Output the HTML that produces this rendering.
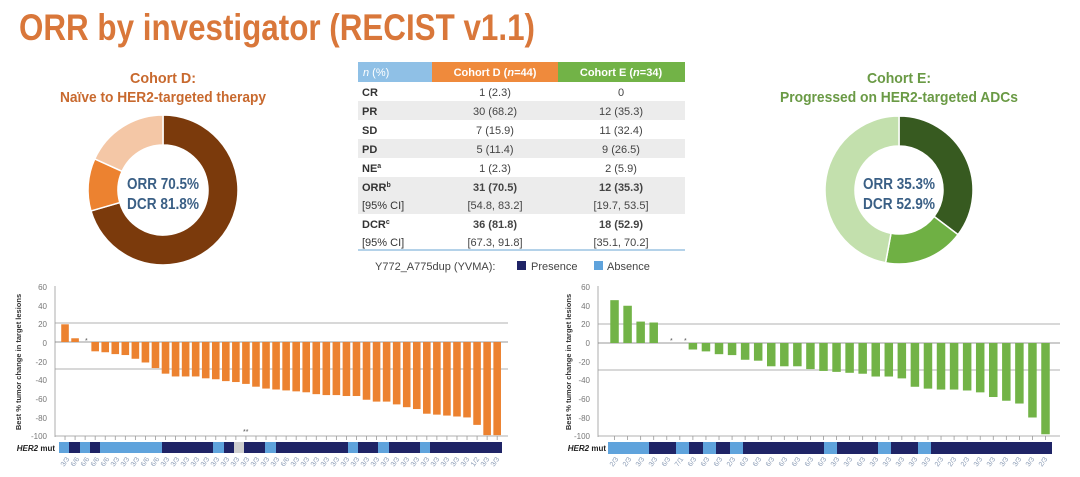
<!DOCTYPE html>
<html><head><meta charset="utf-8">
<style>
html,body{margin:0;padding:0;background:#fff;}
svg{display:block;font-family:"Liberation Sans",Arial,sans-serif;}
.tk{font-size:8px;fill:#777;text-anchor:end;}
.xl{font-size:7px;fill:#8a9bb5;}
.td{font-size:11px;fill:#333;}
.tc{font-size:11px;fill:#444;text-anchor:middle;}
</style></head><body>
<svg width="1080" height="477" viewBox="0 0 1080 477" xmlns="http://www.w3.org/2000/svg">
<rect width="1080" height="477" fill="#fff"/>
<text x="19" y="40" font-size="37" font-weight="bold" fill="#d9773a" textLength="516" lengthAdjust="spacingAndGlyphs">ORR by investigator (RECIST v1.1)</text>

<text x="163" y="83" font-size="15" font-weight="bold" fill="#c8692e" text-anchor="middle" textLength="66" lengthAdjust="spacingAndGlyphs">Cohort D:</text>
<text x="163" y="102" font-size="15" font-weight="bold" fill="#c8692e" text-anchor="middle" textLength="206" lengthAdjust="spacingAndGlyphs">Naïve to HER2-targeted therapy</text>
<g id="d1"></g>
<text x="163" y="189" font-size="16" font-weight="bold" fill="#3a5f85" text-anchor="middle" textLength="72" lengthAdjust="spacingAndGlyphs">ORR 70.5%</text>
<text x="163" y="209" font-size="16" font-weight="bold" fill="#3a5f85" text-anchor="middle" textLength="72" lengthAdjust="spacingAndGlyphs">DCR 81.8%</text>

<text x="899" y="83" font-size="15" font-weight="bold" fill="#6a9a45" text-anchor="middle" textLength="64" lengthAdjust="spacingAndGlyphs">Cohort E:</text>
<text x="899" y="102" font-size="15" font-weight="bold" fill="#6a9a45" text-anchor="middle" textLength="238" lengthAdjust="spacingAndGlyphs">Progressed on HER2-targeted ADCs</text>
<g id="d2"></g>
<text x="899" y="189" font-size="16" font-weight="bold" fill="#3a5f85" text-anchor="middle" textLength="72" lengthAdjust="spacingAndGlyphs">ORR 35.3%</text>
<text x="899" y="209" font-size="16" font-weight="bold" fill="#3a5f85" text-anchor="middle" textLength="72" lengthAdjust="spacingAndGlyphs">DCR 52.9%</text>

<rect x="358" y="62" width="74" height="20" fill="#8fc0e6"/>
<rect x="432" y="62" width="126" height="20" fill="#ef8a3c"/>
<rect x="558" y="62" width="127" height="20" fill="#72b347"/>
<text x="363" y="76" font-size="11" fill="#fff"><tspan font-style="italic">n</tspan> (%)</text>
<text x="495" y="76" font-size="11" font-weight="bold" fill="#fff" text-anchor="middle">Cohort D (<tspan font-style="italic">n</tspan>=44)</text>
<text x="621" y="76" font-size="11" font-weight="bold" fill="#fff" text-anchor="middle">Cohort E (<tspan font-style="italic">n</tspan>=34)</text>
<rect x="358" y="101" width="327" height="19" fill="#ececec"/>
<rect x="358" y="139" width="327" height="19" fill="#ececec"/>
<rect x="358" y="177" width="327" height="37" fill="#ececec"/>
<line x1="358" y1="250" x2="685" y2="250" stroke="#9cc3e2" stroke-width="1.5"/>
<text class="td" x="362" y="96" font-weight="bold">CR</text><text class="tc" x="495" y="96">1 (2.3)</text><text class="tc" x="621" y="96">0</text>
<text class="td" x="362" y="115" font-weight="bold">PR</text><text class="tc" x="495" y="115">30 (68.2)</text><text class="tc" x="621" y="115">12 (35.3)</text>
<text class="td" x="362" y="134" font-weight="bold">SD</text><text class="tc" x="495" y="134">7 (15.9)</text><text class="tc" x="621" y="134">11 (32.4)</text>
<text class="td" x="362" y="153" font-weight="bold">PD</text><text class="tc" x="495" y="153">5 (11.4)</text><text class="tc" x="621" y="153">9 (26.5)</text>
<text class="td" x="362" y="172" font-weight="bold">NE<tspan font-size="7" dy="-4">a</tspan></text><text class="tc" x="495" y="172">1 (2.3)</text><text class="tc" x="621" y="172">2 (5.9)</text>
<text class="td" x="362" y="191" font-weight="bold">ORR<tspan font-size="7" dy="-4">b</tspan></text><text class="tc" x="495" y="191" font-weight="bold">31 (70.5)</text><text class="tc" x="621" y="191" font-weight="bold">12 (35.3)</text>
<text class="td" x="362" y="209">[95% CI]</text><text class="tc" x="495" y="209">[54.8, 83.2]</text><text class="tc" x="621" y="209">[19.7, 53.5]</text>
<text class="td" x="362" y="228" font-weight="bold">DCR<tspan font-size="7" dy="-4">c</tspan></text><text class="tc" x="495" y="228" font-weight="bold">36 (81.8)</text><text class="tc" x="621" y="228" font-weight="bold">18 (52.9)</text>
<text class="td" x="362" y="246">[95% CI]</text><text class="tc" x="495" y="246">[67.3, 91.8]</text><text class="tc" x="621" y="246">[35.1, 70.2]</text>
<text x="375" y="270" font-size="11" fill="#444">Y772_A775dup (YVMA):</text>
<rect x="517" y="261" width="9" height="9" fill="#1f2466"/><text x="531" y="270" font-size="11" fill="#444">Presence</text>
<rect x="594" y="261" width="9" height="9" fill="#5fa3dc"/><text x="607" y="270" font-size="11" fill="#444">Absence</text>

<text transform="translate(21,362) rotate(-90)" font-size="7.5" font-weight="bold" fill="#333" text-anchor="middle">Best % tumor change in target lesions</text>
<line x1="55" y1="286" x2="55" y2="437" stroke="#999" stroke-width="0.8"/>
<g class="tk"><text x="47" y="290">60</text><text x="47" y="309">40</text><text x="47" y="327">20</text><text x="47" y="346">0</text><text x="47" y="365">-20</text><text x="47" y="383">-40</text><text x="47" y="402">-60</text><text x="47" y="421">-80</text><text x="47" y="439">-100</text></g>
<line x1="55" y1="323" x2="508" y2="323" stroke="#999" stroke-width="0.8"/>
<line x1="55" y1="369" x2="508" y2="369" stroke="#999" stroke-width="0.8"/>
<line x1="55" y1="342" x2="508" y2="342" stroke="#777" stroke-width="0.8"/>
<line x1="55" y1="436" x2="508" y2="436" stroke="#999" stroke-width="0.8"/>
<g id="b1"></g>
<text x="85" y="343" font-size="7" fill="#555">*</text>
<text x="243" y="434" font-size="7" fill="#555">**</text>
<text x="55" y="451" font-size="8" font-weight="bold" font-style="italic" fill="#222" text-anchor="end">HER2<tspan font-style="normal"> mut</tspan></text>
<g id="s1"></g>

<text transform="translate(571,362) rotate(-90)" font-size="7.5" font-weight="bold" fill="#333" text-anchor="middle">Best % tumor change in target lesions</text>
<line x1="598" y1="286" x2="598" y2="437" stroke="#999" stroke-width="0.8"/>
<g class="tk"><text x="590" y="290">60</text><text x="590" y="309">40</text><text x="590" y="327">20</text><text x="590" y="346">0</text><text x="590" y="365">-20</text><text x="590" y="383">-40</text><text x="590" y="402">-60</text><text x="590" y="421">-80</text><text x="590" y="439">-100</text></g>
<line x1="598" y1="324" x2="1060" y2="324" stroke="#999" stroke-width="0.8"/>
<line x1="598" y1="370" x2="1060" y2="370" stroke="#999" stroke-width="0.8"/>
<line x1="598" y1="343" x2="1060" y2="343" stroke="#777" stroke-width="0.8"/>
<line x1="598" y1="436" x2="1060" y2="436" stroke="#999" stroke-width="0.8"/>
<g id="b2"></g>
<text x="670" y="343" font-size="7" fill="#555">*</text>
<text x="684" y="343" font-size="7" fill="#555">*</text>
<text x="606" y="451" font-size="8" font-weight="bold" font-style="italic" fill="#222" text-anchor="end">HER2<tspan font-style="normal"> mut</tspan></text>
<g id="s2"></g>

<g class="xl">
<text transform="translate(64,467) rotate(-55)">3/3</text><text transform="translate(74,467) rotate(-55)">6/6</text><text transform="translate(84,467) rotate(-55)">6/6</text><text transform="translate(94,467) rotate(-55)">6/6</text><text transform="translate(104,467) rotate(-55)">6/6</text><text transform="translate(114,467) rotate(-55)">3/3</text><text transform="translate(124,467) rotate(-55)">3/3</text><text transform="translate(134,467) rotate(-55)">3/3</text><text transform="translate(144,467) rotate(-55)">6/6</text><text transform="translate(154,467) rotate(-55)">6/6</text><text transform="translate(164,467) rotate(-55)">3/3</text><text transform="translate(174,467) rotate(-55)">3/3</text><text transform="translate(184,467) rotate(-55)">3/3</text><text transform="translate(194,467) rotate(-55)">3/3</text><text transform="translate(204,467) rotate(-55)">3/3</text><text transform="translate(214,467) rotate(-55)">3/3</text><text transform="translate(224,467) rotate(-55)">3/3</text><text transform="translate(234,467) rotate(-55)">3/3</text><text transform="translate(244,467) rotate(-55)">3/3</text><text transform="translate(254,467) rotate(-55)">3/3</text><text transform="translate(264,467) rotate(-55)">3/3</text><text transform="translate(274,467) rotate(-55)">3/3</text><text transform="translate(284,467) rotate(-55)">6/6</text><text transform="translate(294,467) rotate(-55)">3/3</text><text transform="translate(304,467) rotate(-55)">3/3</text><text transform="translate(314,467) rotate(-55)">3/3</text><text transform="translate(324,467) rotate(-55)">3/3</text><text transform="translate(334,467) rotate(-55)">3/3</text><text transform="translate(344,467) rotate(-55)">3/3</text><text transform="translate(354,467) rotate(-55)">3/3</text><text transform="translate(364,467) rotate(-55)">3/3</text><text transform="translate(374,467) rotate(-55)">3/3</text><text transform="translate(384,467) rotate(-55)">3/3</text><text transform="translate(394,467) rotate(-55)">3/3</text><text transform="translate(404,467) rotate(-55)">3/3</text><text transform="translate(414,467) rotate(-55)">3/3</text><text transform="translate(424,467) rotate(-55)">3/3</text><text transform="translate(434,467) rotate(-55)">3/3</text><text transform="translate(444,467) rotate(-55)">3/3</text><text transform="translate(454,467) rotate(-55)">3/3</text><text transform="translate(464,467) rotate(-55)">3/3</text><text transform="translate(474,467) rotate(-55)">1/2</text><text transform="translate(484,467) rotate(-55)">3/3</text><text transform="translate(494,467) rotate(-55)">3/3</text>
<text transform="translate(613,467) rotate(-55)">2/3</text><text transform="translate(626,467) rotate(-55)">2/3</text><text transform="translate(639,467) rotate(-55)">3/3</text><text transform="translate(652,467) rotate(-55)">3/3</text><text transform="translate(665,467) rotate(-55)">6/3</text><text transform="translate(678,467) rotate(-55)">7/1</text><text transform="translate(691,467) rotate(-55)">6/3</text><text transform="translate(704,467) rotate(-55)">6/3</text><text transform="translate(717,467) rotate(-55)">6/3</text><text transform="translate(730,467) rotate(-55)">2/3</text><text transform="translate(743,467) rotate(-55)">6/3</text><text transform="translate(756,467) rotate(-55)">6/3</text><text transform="translate(769,467) rotate(-55)">6/3</text><text transform="translate(782,467) rotate(-55)">6/3</text><text transform="translate(795,467) rotate(-55)">6/3</text><text transform="translate(808,467) rotate(-55)">6/3</text><text transform="translate(821,467) rotate(-55)">6/3</text><text transform="translate(834,467) rotate(-55)">3/3</text><text transform="translate(847,467) rotate(-55)">3/3</text><text transform="translate(860,467) rotate(-55)">6/3</text><text transform="translate(873,467) rotate(-55)">3/3</text><text transform="translate(886,467) rotate(-55)">3/3</text><text transform="translate(899,467) rotate(-55)">3/3</text><text transform="translate(912,467) rotate(-55)">3/3</text><text transform="translate(925,467) rotate(-55)">3/3</text><text transform="translate(938,467) rotate(-55)">2/3</text><text transform="translate(951,467) rotate(-55)">2/3</text><text transform="translate(964,467) rotate(-55)">2/3</text><text transform="translate(977,467) rotate(-55)">3/3</text><text transform="translate(990,467) rotate(-55)">3/3</text><text transform="translate(1003,467) rotate(-55)">3/3</text><text transform="translate(1016,467) rotate(-55)">3/3</text><text transform="translate(1029,467) rotate(-55)">3/3</text><text transform="translate(1042,467) rotate(-55)">2/3</text>
</g>
</svg>
<script>
var NS="http://www.w3.org/2000/svg";
function el(p,t,a){var e=document.createElementNS(NS,t);for(var k in a)e.setAttribute(k,a[k]);p.appendChild(e);return e;}
function donut(id,cx,cy,R,r,vals,cols){
  var g=document.getElementById(id),a0=-Math.PI/2;
  for(var i=0;i<vals.length;i++){
    var a1=a0+vals[i]*2*Math.PI/100,lg=(a1-a0)>Math.PI?1:0;
    var d="M"+(cx+R*Math.cos(a0))+","+(cy+R*Math.sin(a0))+" A"+R+","+R+" 0 "+lg+" 1 "+(cx+R*Math.cos(a1))+","+(cy+R*Math.sin(a1))+
      " L"+(cx+r*Math.cos(a1))+","+(cy+r*Math.sin(a1))+" A"+r+","+r+" 0 "+lg+" 0 "+(cx+r*Math.cos(a0))+","+(cy+r*Math.sin(a0))+"Z";
    el(g,"path",{d:d,fill:cols[i],stroke:"#fff","stroke-width":"1.5"});
    a0=a1;
  }
}
donut("d1",163,190,75,45,[70.5,11.3,18.2],["#7b3a0c","#ec8230","#f4c7a6"]);
donut("d2",899,190,74,44,[35.3,17.6,47.1],["#375a20","#6fb044","#c3e0ad"]);
function bars(id,x0,slot,bw,zero,vals,col){
  var g=document.getElementById(id),k=149/160;
  vals.forEach(function(v,i){
    var x=x0+i*slot+(slot-bw)/2,h=Math.abs(v)*k;
    if(v!==0)el(g,"rect",{x:x,y:v>0?zero-h:zero,width:bw,height:h,fill:col});
    el(g,"line",{x1:x+bw/2,y1:436,x2:x+bw/2,y2:440,stroke:"#999","stroke-width":"0.8"});
  });
}
bars("b1",60,10.05,7.6,342,[19,4,0,-10,-11,-13,-14,-18,-22,-28,-34,-37,-37,-37,-39,-40,-42,-43,-45,-48,-50,-51,-52,-53,-54,-56,-57,-57,-58,-58,-62,-64,-64,-67,-70,-72,-77,-78,-79,-80,-81,-89,-100,-100],"#ec8230");
bars("b2",608,13.06,8.5,343,[46,40,23,22,0,0,-7,-9,-12,-13,-18,-19,-25,-25,-25,-28,-30,-31,-32,-33,-36,-36,-38,-47,-49,-50,-50,-51,-53,-58,-62,-65,-80,-98].sort(function(a,b){return b-a}),"#72b347");
function strip(id,y,h,segs){
  var g=document.getElementById(id);
  segs.forEach(function(s){el(g,"rect",{x:s[0],y:y,width:s[1]-s[0],height:h,fill:s[2]});});
}
var L="#5fa3dc",D="#1f2466",G="#cfcfcf";
strip("s1",442,11,[[59,69,L],[69,80,D],[80,90,L],[90,100,D],[100,162,L],[162,213,D],[213,224,L],[224,234,D],[234,244,G],[244,265,D],[265,276,L],[276,348,D],[348,358,L],[358,378,D],[378,389,L],[389,420,D],[420,430,L],[430,502,D]]);
strip("s2",442,12,[[608,649,L],[649,676,D],[676,689,L],[689,703,D],[703,716,L],[716,730,D],[730,743,L],[743,824,D],[824,837,L],[837,878,D],[878,891,L],[891,918,D],[918,931,L],[931,1052,D]]);
</script>
</body></html>
